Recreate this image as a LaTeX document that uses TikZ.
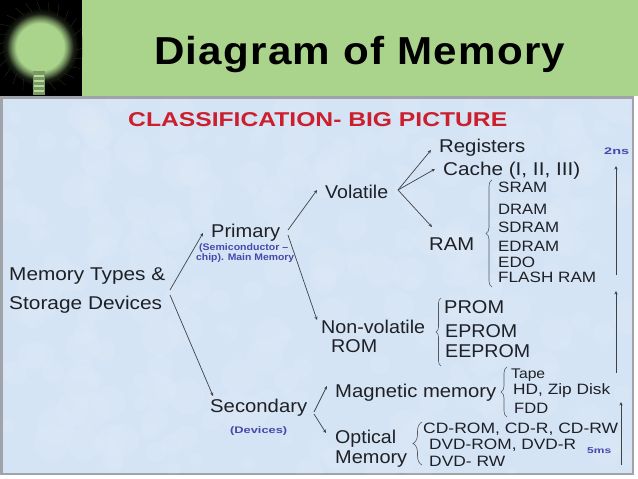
\documentclass[tikz,border=0pt]{standalone}
\usepackage{graphicx}
\usepackage{fontspec}
\setmainfont{Liberation Sans}
\usetikzlibrary{arrows.meta,decorations.pathreplacing}
\definecolor{hdr}{RGB}{170,212,139}
\definecolor{panel}{RGB}{212,228,245}
\definecolor{edge}{RGB}{160,163,168}
\definecolor{ink}{RGB}{30,32,38}
\definecolor{bluetxt}{RGB}{72,72,170}
\definecolor{redtxt}{RGB}{205,30,45}
\newcommand{\fitw}[2]{\resizebox{#1pt}{\height}{#2}}
\pgfdeclareradialshading{bulbglow}{\pgfpointorigin}{%
 color(0bp)=(hdr); color(13.5bp)=(hdr); color(16bp)=(hdr!65!black); color(19bp)=(hdr!15!black); color(22bp)=(black); color(50bp)=(black)}
\tikzset{
 lbl/.style={anchor=base west,inner sep=0pt,text=ink},
 big/.style={lbl,font=\fontsize{18.5}{18.5}\selectfont},
 mid/.style={lbl,font=\fontsize{15}{15}\selectfont},
 note/.style={lbl,text=bluetxt,font=\bfseries\fontsize{9.5}{9.5}\selectfont},
 link/.style={draw=ink!85,line width=0.7pt},
 arr/.style={link,-{Stealth[length=3.5pt,width=3.2pt]}},
 curly/.style={draw=ink!75,line width=0.6pt,decorate,decoration={brace,amplitude=#1}},
 curly/.default=5pt
}
\begin{document}
\begin{tikzpicture}[x=1pt,y=-1pt]
\useasboundingbox (0,0) rectangle (638,479);
\fill[white] (0,0) rectangle (638,479);
% header
\fill[hdr] (82,0) rectangle (638,96);
\fill[black] (0,0) rectangle (82,96);
\begin{scope}
\clip (0,0) rectangle (82,96);
\shade[shading=bulbglow] (40,47) circle (44);
\foreach \a in {0,14,...,346}{
 \draw[hdr!25!black,line width=0.3pt] ({40+36*cos(\a+5)},{47+36*sin(\a+5)}) -- ({40+46*cos(\a)},{47+46*sin(\a)});
}
\end{scope}
\fill[hdr!72!black] (33,71) rectangle (45,95);
\foreach \y in {76,81,86,91}{\draw[hdr!85!white,line width=2pt] (34,\y) -- (44,\y);}
\node[lbl,text=black,font=\bfseries\fontsize{39}{39}\selectfont\addfontfeature{LetterSpace=3}] (title) at (154,64) {\fitw{411}{Diagram of Memory}};
% panel
\fill[edge] (0,96) rectangle (634,475);
\fill[panel] (3,99) rectangle (632,473);
\begin{scope}
\clip (3,99) rectangle (632,473);
\pgfmathsetseed{7}
\foreach \i in {1,...,260}{
 \pgfmathsetmacro{\px}{3+629*rnd}
 \pgfmathsetmacro{\py}{99+374*rnd}
 \pgfmathsetmacro{\pr}{5+14*rnd}
 \fill[white,opacity=0.07] (\px,\py) circle (\pr);
}
\end{scope}
\node[lbl,text=redtxt,font=\bfseries\fontsize{20}{20}\selectfont] (heading) at (128,126) {\fitw{379}{CLASSIFICATION- BIG PICTURE}};
% labels
\node[big] (types) at (9,280) {\fitw{156}{Memory Types \&}};
\node[big] (storage) at (9,309) {\fitw{153}{Storage Devices}};
\node[big] (primary) at (211,237) {\fitw{69}{Primary}};
\node[note] (semi) at (199,250) {\fitw{89}{(Semiconductor –}};
\node[note] (chip) at (196,260) {\fitw{98}{chip). Main Memory}};
\node[big] (secondary) at (210,412) {\fitw{97}{Secondary}};
\node[note] (devices) at (230,433) {\fitw{57}{(Devices)}};
\node[big] (volatile) at (325,198) {\fitw{63}{Volatile}};
\node[big] (nonvol) at (321,333) {\fitw{104}{Non-volatile}};
\node[big] (rom) at (331,352) {\fitw{46}{ROM}};
\node[big] (magnetic) at (335,397) {\fitw{161}{Magnetic memory}};
\node[big] (optical) at (335,443) {\fitw{61}{Optical}};
\node[big] (optmem) at (335,463) {\fitw{72}{Memory}};
\node[big] (registers) at (439,152) {\fitw{86}{Registers}};
\node[big] (cache) at (443,175) {\fitw{137}{Cache (I, II, III)}};
\node[big] (ram) at (429,250) {\fitw{45}{RAM}};
\node[mid] (sram) at (498,192) {\fitw{49}{SRAM}};
\node[mid] (dram) at (498,214) {\fitw{49}{DRAM}};
\node[mid] (sdram) at (498,232) {\fitw{61}{SDRAM}};
\node[mid] (edram) at (498,251) {\fitw{61}{EDRAM}};
\node[mid] (edo) at (498,267) {\fitw{37}{EDO}};
\node[mid] (flash) at (498,282) {\fitw{98}{FLASH RAM}};
\node[big] (prom) at (444,313) {\fitw{60}{PROM}};
\node[big] (eprom) at (445,337) {\fitw{72}{EPROM}};
\node[big] (eeprom) at (445,357) {\fitw{85}{EEPROM}};
\node[lbl,font=\fontsize{14}{14}\selectfont] (tape) at (511,378) {\fitw{34}{Tape}};
\node[mid] (hd) at (513,394) {\fitw{97}{HD, Zip Disk}};
\node[mid] (fdd) at (514,413) {\fitw{34}{FDD}};
\node[mid] (cd) at (423,433) {\fitw{195}{CD-ROM, CD-R, CD-RW}};
\node[mid] (dvd) at (429,449) {\fitw{147}{DVD-ROM, DVD-R}};
\node[mid] (dvdrw) at (429,466) {\fitw{76}{DVD- RW}};
\node[note] (fast) at (604,154) {\fitw{25}{2ns}};
\node[note,font=\bfseries\fontsize{8.5}{8.5}\selectfont] (slow) at (587,453) {\fitw{24}{5ms}};
% connector ends
\coordinate (rootA) at (170,290);
\coordinate (rootB) at (170,295);
\coordinate (primIn) at (203,233);
\coordinate (secIn) at (213,396);
\coordinate (primOutA) at (288,230);
\coordinate (primOutB) at (288,235);
\coordinate (volIn) at (317,190);
\coordinate (nonIn) at (317,320);
\coordinate (volOut) at (398,190);
\coordinate (regIn) at (431,150);
\coordinate (cacheIn) at (435,169);
\coordinate (ramIn) at (432,227);
\coordinate (secOutA) at (314,412);
\coordinate (secOutB) at (314,414);
\coordinate (magIn) at (327,386);
\coordinate (optIn) at (326,433);
\coordinate (spA0) at (616,275);
\coordinate (spA1) at (616,166);
\coordinate (spB0) at (616,373);
\coordinate (spB1) at (616,291);
\coordinate (spC0) at (621,465);
\coordinate (spC1) at (621,402);
% connectors
\draw[arr] (rootA) -- (primIn);
\draw[arr] (rootB) -- (secIn);
\draw[arr] (primOutA) -- (volIn);
\draw[arr] (primOutB) -- (nonIn);
\draw[arr] (volOut) -- (regIn);
\draw[arr] (volOut) -- (cacheIn);
\draw[arr] (volOut) -- (ramIn);
\draw[arr] (secOutA) -- (magIn);
\draw[arr] (secOutB) -- (optIn);
\draw[arr] (spA0) -- (spA1);
\draw[arr] (spB0) -- (spB1);
\draw[arr] (spC0) -- (spC1);
% braces
\draw[curly=6pt] (492,287) -- (492,180);
\draw[curly=5pt] (441,366) -- (441,298);
\draw[curly=6pt] (507,417) -- (507,367);
\draw[curly=9pt] (422,465) -- (422,422);
\end{tikzpicture}
\end{document}
